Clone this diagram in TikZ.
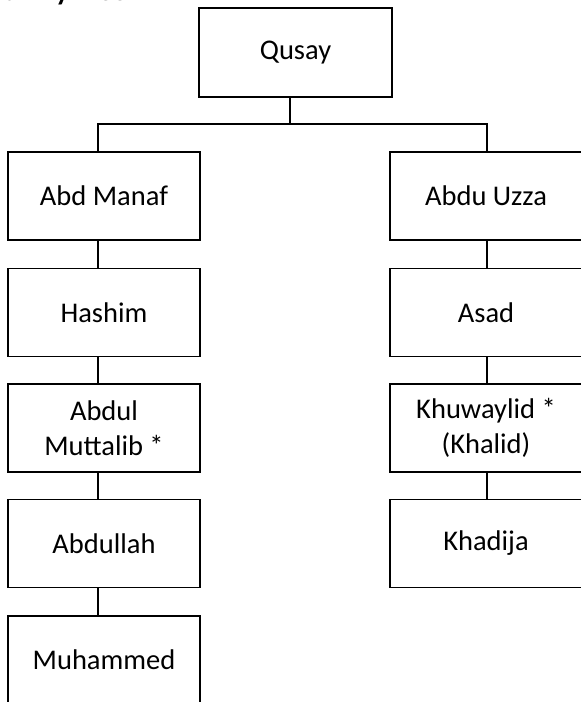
\documentclass[tikz,border=0pt]{standalone}
\usepackage{fontspec}
\setmainfont{Carlito}
\begin{document}
\begin{tikzpicture}[x=1pt,y=-1pt,
  person/.style={draw=black, line width=1.7pt, minimum width=192pt, minimum height=88pt,
    inner sep=0pt, align=center, font=\fontsize{28.5}{35}\selectfont},
  link/.style={draw=black, line width=1.7pt}]
\useasboundingbox (0,0) rectangle (581,702);
\node[anchor=base east, inner sep=0pt, font=\fontsize{28.5}{34}\selectfont\bfseries] (title) at (127,0.8) {Family Tree};
\node[person, minimum width=193pt, minimum height=89pt] (q) at (295.5,52.5) {Qusay};
% left column
\node[person] (am) at (104,196) {Abd Manaf};
\node[person] (ha) at (104,312.5) {Hashim};
\node[person] (mu) at (104,428) {Abdul\\Muttalib *};
\node[person] (ab) at (104,543.5) {Abdullah};
\node[person] (mo) at (104,660) {Muhammed};
% right column
\node[person] (au) at (486,196) {Abdu Uzza};
\node[person] (as) at (486,312.5) {Asad};
\node[person] (kh) at (486,428) {Khuwaylid *\\(Khalid)};
\node[person] (kd) at (486,543.5) {Khadija};
% connectors
\coordinate (bar) at (290,124);
\draw[link] ([xshift=-5.5pt]q.south) -- (bar);
\draw[link] ([xshift=-6pt]am.north) |- (bar) -| ([xshift=1pt]au.north);
\draw[link] ([xshift=-6pt]am.south) -- ([xshift=-6pt]ha.north);
\draw[link] ([xshift=-6pt]ha.south) -- ([xshift=-6pt]mu.north);
\draw[link] ([xshift=-6pt]mu.south) -- ([xshift=-6pt]ab.north);
\draw[link] ([xshift=-6pt]ab.south) -- ([xshift=-6pt]mo.north);
\draw[link] ([xshift=1pt]au.south) -- ([xshift=1pt]as.north);
\draw[link] ([xshift=1pt]as.south) -- ([xshift=1pt]kh.north);
\draw[link] ([xshift=1pt]kh.south) -- ([xshift=1pt]kd.north);
\end{tikzpicture}
\end{document}
